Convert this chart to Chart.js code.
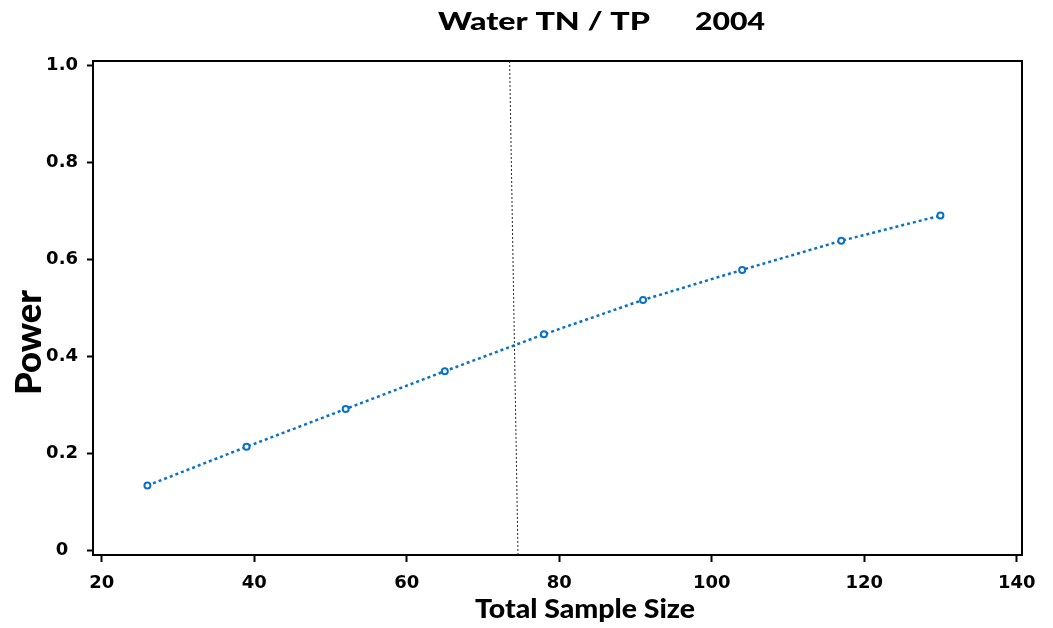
<!DOCTYPE html>
<html>
<head>
    <title>Water TN / TP 2004</title>
    <script src="https://cdn.jsdelivr.net/npm/chart.js"></script>
    <style>
        body { margin: 0; background: #fff; }
        #wrap { width: 1053px; height: 628px; }
    </style>
</head>
<body>
    <div id="wrap">
        <canvas id="powerChart"></canvas>
    </div>
    <script>
        // power curve: total sample size vs power
        const sampleSize = [26, 39, 52, 65, 78, 91, 104, 117, 130];
        const power = [0.133, 0.213, 0.291, 0.369, 0.445, 0.516, 0.578, 0.638, 0.690];

        // reference line drawn across the plot
        const refLineX = [73.5, 74.6];
        const refLineY = [1.009, -0.0103];

        const xTicks = [20, 40, 60, 80, 100, 120, 140];
        const yTicks = [0, 0.2, 0.4, 0.6, 0.8, 1.0];

        const chartTitle = ['Water TN / TP', '2004'];
        const xTitle = 'Total Sample Size';
        const yTitle = 'Power';

        const blue = '#0a72c6';
        const tickFont = { family: 'DejaVu Sans', size: 18, weight: 'bold' };

        // draws text stretched sideways to a given width, left edge at x
        function drawWide(ctx, text, x, y, width) {
            const w = ctx.measureText(text).width;
            ctx.save();
            ctx.translate(x, y);
            ctx.scale(width / w, 1);
            ctx.textAlign = 'left';
            ctx.fillText(text, 0, 0);
            ctx.restore();
        }

        // frame around the plot area plus the text titles
        const decorations = {
            id: 'decorations',
            afterDraw(chart) {
                const { ctx, chartArea: a } = chart;
                ctx.save();
                ctx.strokeStyle = '#000';
                ctx.lineWidth = 2;
                ctx.strokeRect(a.left, a.top, a.right - a.left, a.bottom - a.top);

                ctx.fillStyle = '#000';
                ctx.textBaseline = 'alphabetic';
                ctx.font = '900 25px Lato';
                drawWide(ctx, chartTitle[0], 438, 30, 212);
                drawWide(ctx, chartTitle[1], 695, 30, 70);

                ctx.font = '900 26px Lato';
                drawWide(ctx, xTitle, 475, 618, 220);

                ctx.translate(41, 343);
                ctx.rotate(-Math.PI / 2);
                ctx.font = '900 36px Lato';
                drawWide(ctx, yTitle, -52, 0, 105);
                ctx.restore();
            }
        };

        const ctx = document.getElementById('powerChart').getContext('2d');
        const powerChart = new Chart(ctx, {
            type: 'scatter',
            data: {
                datasets: [
                    {
                        label: 'Power',
                        data: sampleSize.map((n, i) => ({ x: n, y: power[i] })),
                        showLine: true,
                        borderColor: blue,
                        borderWidth: 2.5,
                        borderDash: [3, 3],
                        pointRadius: 3,
                        pointBorderWidth: 2,
                        pointBorderColor: blue,
                        pointBackgroundColor: '#fff',
                        order: 1,
                    },
                    {
                        label: 'Reference',
                        data: refLineX.map((x, i) => ({ x: x, y: refLineY[i] })),
                        showLine: true,
                        borderColor: '#222',
                        borderWidth: 1,
                        borderDash: [2, 2],
                        pointRadius: 0,
                        order: 2,
                    },
                ],
            },
            options: {
                responsive: true,
                maintainAspectRatio: false,
                animation: false,
                layout: { padding: { top: 61, right: 31, left: 0, bottom: 0 } },
                plugins: {
                    legend: { display: false },
                    tooltip: { enabled: false },
                },
                scales: {
                    x: {
                        type: 'linear',
                        min: 18.86,
                        max: 140.7,
                        afterBuildTicks: (scale) => { scale.ticks = xTicks.map(v => ({ value: v })); },
                        afterFit: (scale) => { scale.height = 628 - 555; },
                        border: { display: false },
                        grid: {
                            drawOnChartArea: false,
                            drawTicks: true,
                            tickLength: 7,
                            tickColor: '#000',
                            tickWidth: 2,
                        },
                        ticks: {
                            color: '#000',
                            font: tickFont,
                            padding: 11,
                            maxRotation: 0,
                        },
                    },
                    y: {
                        type: 'linear',
                        min: -0.0103,
                        max: 1.009,
                        afterBuildTicks: (scale) => { scale.ticks = yTicks.map(v => ({ value: v })); },
                        afterFit: (scale) => { scale.width = 93; },
                        border: { display: false },
                        grid: {
                            drawOnChartArea: false,
                            drawTicks: true,
                            tickLength: 6,
                            tickColor: '#000',
                            tickWidth: 2,
                        },
                        ticks: {
                            color: '#000',
                            font: tickFont,
                            padding: 9,
                            crossAlign: 'center',
                            callback: (v) => v === 0 ? '0' : v.toFixed(1),
                        },
                    },
                },
            },
            plugins: [decorations],
        });
    </script>
</body>
</html>
